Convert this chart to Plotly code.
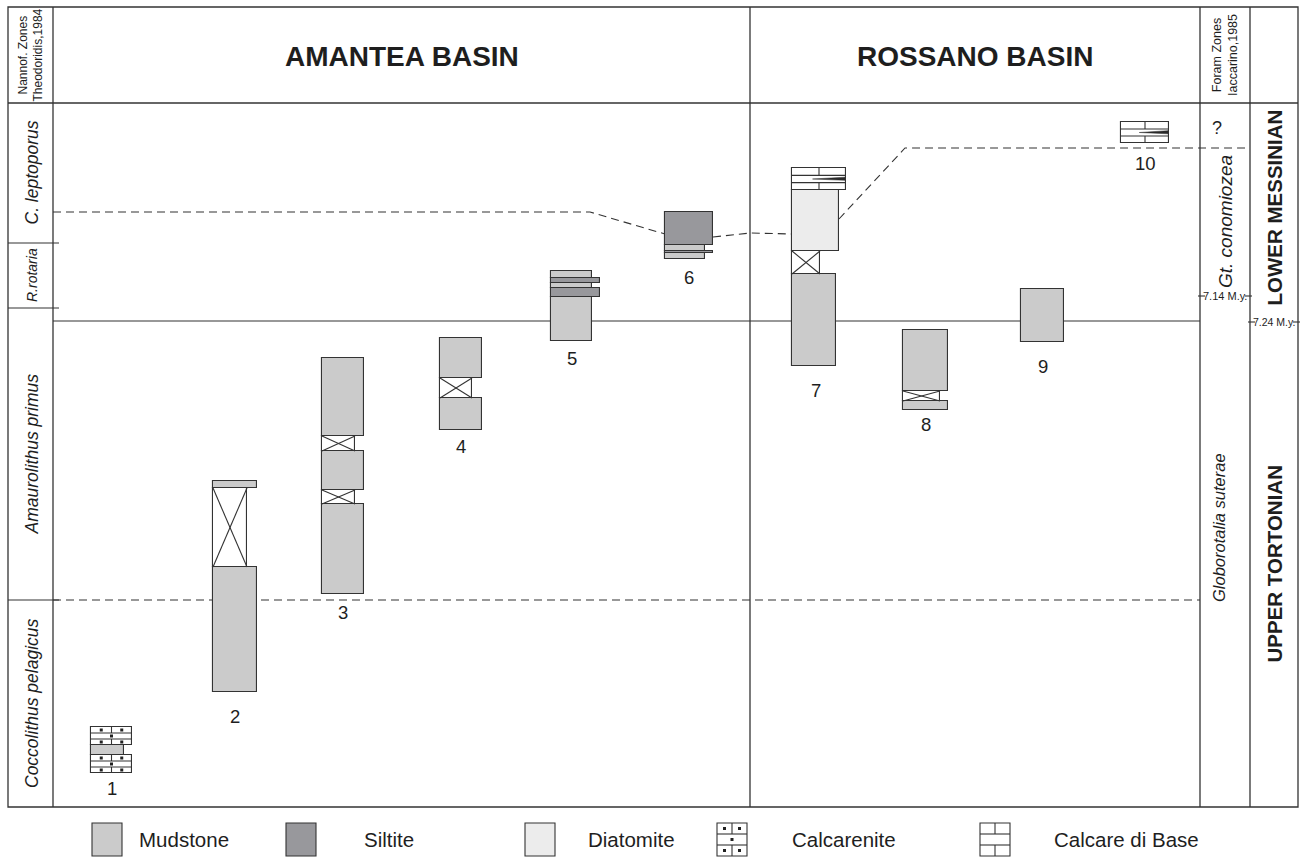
import plotly.graph_objects as go

# ---------------------------------------------------------------------------
# Section scale: vertical position runs downward (top of chart = youngest)
# ---------------------------------------------------------------------------

# Nannofossil zones (Theodoridis, 1984)
nanno_zone = ["C. leptoporus", "R.rotaria", "Amaurolithus primus", "Coccolithus pelagicus"]
nanno_top = [103, 243, 308, 600]
nanno_base = [243, 308, 600, 807]
nanno_size = [17.5, 14, 17.5, 17.5]

# Foram zones (Iaccarino, 1985)
foram_zone = ["?", "Gt. conomiozea", "Globorotalia suterae"]
foram_mid = [128, 222, 528]

# Stages
stage_name = ["LOWER MESSINIAN", "UPPER TORTONIAN"]
stage_top = [103, 322]
stage_base = [322, 807]

# Age ticks
age_label = ["7.14 M.y.", "7.24 M.y."]
age_level = [296, 322]

# Correlation levels
tortonian_messinian_level = 321
amaurolithus_base_level = 600
leptoporus_base_x = [53, 590, 665, None, 713, 750, 792, None, 839, 905, 1250]
leptoporus_base_y = [212, 212, 234, None, 237, 233, 234, None, 219, 148, 148]

# Sections (columns) and their lithological units, listed top to base
col_name = ["1", "2", "3", "4", "5", "6", "7", "8", "9", "10"]
col_left = [91, 213, 322, 440, 551, 665, 792, 903, 1021, 1121]

unit_col = [0, 0, 0,
            1, 1, 1,
            2, 2, 2, 2, 2,
            3, 3, 3,
            4, 4, 4, 4, 4,
            5, 5, 5, 5,
            6, 6, 6, 6,
            7, 7, 7,
            8,
            9]
unit_top = [727, 745, 755,
            481, 488, 567,
            358, 436, 451, 490, 504,
            338, 378, 398,
            271, 278, 283, 288, 297,
            212, 245, 251, 253,
            168, 190, 251, 274,
            330, 391, 401,
            289,
            122]
unit_base = [745, 755, 773,
             488, 567, 692,
             436, 451, 490, 504, 594,
             378, 398, 430,
             278, 283, 288, 297, 341,
             245, 251, 253, 259,
             190, 251, 274, 366,
             391, 401, 410,
             342,
             143]
unit_lith = ["calcarenite", "mudstone", "calcarenite",
             "mudstone", "covered", "mudstone",
             "mudstone", "covered", "mudstone", "covered", "mudstone",
             "mudstone", "covered", "mudstone",
             "mudstone", "siltite", "mudstone", "siltite", "mudstone",
             "siltite", "mudstone", "siltite", "mudstone",
             "calcare", "diatomite", "covered", "mudstone",
             "mudstone", "covered", "mudstone",
             "mudstone",
             "calcare"]
unit_width = [41, 33, 41,
              44, 34, 44,
              42, 33, 42, 33, 42,
              42, 32, 42,
              41, 49, 41, 49, 41,
              48, 40, 48, 40,
              54, 47, 28, 44,
              45, 37, 45,
              43,
              48]
unit_wedge = [False] * len(unit_col)
unit_wedge[23] = True
unit_wedge[31] = True

# Legend
legend_lith = ["mudstone", "siltite", "diatomite", "calcarenite", "calcare"]
legend_text = ["Mudstone", "Siltite", "Diatomite", "Calcarenite", "Calcare di Base"]

# ---------------------------------------------------------------------------
# Styling
# ---------------------------------------------------------------------------
INK = "#333333"
TXT = "#1e1e1e"
FONT = "Liberation Sans, Arial, sans-serif"
NARROW = "Liberation Sans Narrow, Liberation Sans, Arial, sans-serif"
FILL = {"mudstone": "#cbcbcb", "siltite": "#98989c", "diatomite": "#ececec",
        "calcarenite": "#ffffff", "calcare": "#ffffff", "covered": "#ffffff"}
DASH = "8px,5px"
label_gap = [15, 24, 18, 16, 17, 18, 24, 14, 24, 20]
legend_box_x = [92, 286, 525, 717, 980]
legend_text_x = [137, 362, 586, 790, 1052]
legend_box_w = 30
legend_y0, legend_y1 = 823, 856

fig = go.Figure()

seg_x, seg_y = [], []
dot_x, dot_y = [], []
wedge_x, wedge_y = [], []


def seg(xa, ya, xb, yb):
    seg_x.extend([xa, xb, None])
    seg_y.extend([ya, yb, None])


def pattern(x0, x1, y0, y1, lith, wedge=False):
    """Internal ornament of a lithological unit."""
    h = y1 - y0
    w = x1 - x0
    xc = (x0 + x1) / 2
    if lith == "covered":
        seg(x0, y0, x1, y1)
        seg(x0, y1, x1, y0)
    elif lith in ("calcarenite", "calcare"):
        r1 = y0 + h / 3
        r2 = y0 + 2 * h / 3
        seg(x0, r1, x1, r1)
        seg(x0, r2, x1, r2)
        seg(xc, y0, xc, r1)
        seg(xc, r2, xc, y1)
        if lith == "calcarenite":
            for yy in ((y0 + r1) / 2, (r2 + y1) / 2):
                dot_x.extend([x0 + w / 4, x0 + 3 * w / 4])
                dot_y.extend([yy, yy])
            dot_x.append(xc)
            dot_y.append((r1 + r2) / 2)
        if wedge:
            ym = (r1 + r2) / 2
            wedge_x.extend([x0 + 0.38 * w, x1 - 1, x1 - 1, x0 + 0.38 * w, None])
            wedge_y.extend([ym, ym - 1.8, ym + 1.3, ym, None])


# Correlation line (leptoporus base), kept beneath the sections
fig.add_trace(go.Scatter(x=leptoporus_base_x, y=leptoporus_base_y, mode="lines",
                         line=dict(color=INK, width=1.1, dash=DASH),
                         hoverinfo="skip", showlegend=False))

# Lithological units as bars (base = unit top, height = thickness)
for lith in ["mudstone", "siltite", "diatomite", "calcarenite", "calcare", "covered"]:
    idx = [i for i, l in enumerate(unit_lith) if l == lith]
    if not idx:
        continue
    fig.add_trace(go.Bar(
        x=[col_left[unit_col[i]] for i in idx],
        base=[unit_top[i] for i in idx],
        y=[unit_base[i] - unit_top[i] for i in idx],
        width=[unit_width[i] for i in idx],
        offset=0,
        marker=dict(color=FILL[lith], line=dict(color=INK, width=1.1)),
        hoverinfo="skip", showlegend=False,
    ))

for i in range(len(unit_col)):
    x0 = col_left[unit_col[i]]
    pattern(x0, x0 + unit_width[i], unit_top[i], unit_base[i], unit_lith[i], unit_wedge[i])

# Legend swatches
shapes = []
for k, lith in enumerate(legend_lith):
    x0 = legend_box_x[k]
    x1 = x0 + legend_box_w
    shapes.append(dict(type="rect", xref="x", yref="y", x0=x0, x1=x1,
                       y0=legend_y0, y1=legend_y1, fillcolor=FILL[lith],
                       line=dict(color=INK, width=1.1), layer="below"))
    pattern(x0, x1, legend_y0, legend_y1, lith)

fig.add_trace(go.Scatter(x=seg_x, y=seg_y, mode="lines",
                         line=dict(color=INK, width=1.1), hoverinfo="skip", showlegend=False))
fig.add_trace(go.Scatter(x=dot_x, y=dot_y, mode="markers",
                         marker=dict(symbol="square", size=3, color="#222222"),
                         hoverinfo="skip", showlegend=False))
fig.add_trace(go.Scatter(x=wedge_x, y=wedge_y, mode="lines", fill="toself",
                         fillcolor="#2a2a2a", line=dict(color="#2a2a2a", width=0.5),
                         hoverinfo="skip", showlegend=False))

# ---------------------------------------------------------------------------
# Frame and zone boundaries
# ---------------------------------------------------------------------------
LEFT, RIGHT, TOP, BOTTOM, HEAD = 8, 1298, 7, 807, 103
X_NANNO, X_MID, X_FORAM, X_STAGE = 53, 750, 1200, 1250


def hline(y, xa, xb, dash="solid", width=1.1):
    shapes.append(dict(type="line", xref="x", yref="y", x0=xa, x1=xb, y0=y, y1=y,
                       line=dict(color=INK, width=width, dash=dash), layer="below"))


def vline(x, ya, yb, width=1.2):
    shapes.append(dict(type="line", xref="x", yref="y", x0=x, x1=x, y0=ya, y1=yb,
                       line=dict(color=INK, width=width), layer="below"))


shapes.append(dict(type="rect", xref="x", yref="y", x0=LEFT, x1=RIGHT, y0=TOP, y1=BOTTOM,
                   line=dict(color=INK, width=1.3), layer="below"))
for xv in (X_NANNO, X_MID, X_FORAM, X_STAGE):
    vline(xv, TOP, BOTTOM, 1.3)
hline(HEAD, LEFT, RIGHT, width=1.3)

for yb in nanno_base[:-1]:
    hline(yb, LEFT, X_NANNO + 6)

hline(tortonian_messinian_level, X_NANNO, X_FORAM)
hline(amaurolithus_base_level, X_NANNO, X_FORAM, dash=DASH)

for k, lvl in enumerate(age_level):
    xa, xb = (X_FORAM, X_STAGE) if k == 0 else (X_STAGE, RIGHT)
    hline(lvl, xa - 2, xa + 5)
    hline(lvl, xb - 5, xb + 2)

# ---------------------------------------------------------------------------
# Text
# ---------------------------------------------------------------------------
ann = []


def text(x, y, s, size, family=FONT, angle=0, xanchor="center", yanchor="middle"):
    ann.append(dict(x=x, y=y, xref="x", yref="y", text=s, showarrow=False,
                    textangle=angle, xanchor=xanchor, yanchor=yanchor,
                    font=dict(family=family, size=size, color=TXT)))


text((X_NANNO + X_MID) / 2, 56, "<b>AMANTEA BASIN</b>", 28)
text((X_MID + X_FORAM) / 2, 56, "<b>ROSSANO BASIN</b>", 28)
text((LEFT + X_NANNO) / 2, 55, "Nannof. Zones<br>Theodoridis,1984", 12, NARROW, -90)
text((X_FORAM + X_STAGE) / 2, 55, "Foram Zones<br>Iaccarino,1985", 12.5, NARROW, -90)

for k, z in enumerate(nanno_zone):
    text((LEFT + X_NANNO) / 2 + 1, (nanno_top[k] + nanno_base[k]) / 2,
         "<i>%s</i>" % z, nanno_size[k], NARROW if k == 1 else FONT, -90)

text(1217, foram_mid[0], "?", 18)
text(1225, foram_mid[1], "<i>%s</i>" % foram_zone[1], 19, FONT, -90)
text(1219, foram_mid[2], "<i>%s</i>" % foram_zone[2], 16.5, FONT, -90)

for k, s in enumerate(stage_name):
    text((X_STAGE + RIGHT) / 2, (stage_top[k] + stage_base[k]) / 2 - (5 if k == 0 else 0),
         "<b>%s</b>" % s, 20.5, FONT, -90)

text((X_FORAM + X_STAGE) / 2, age_level[0], age_label[0], 11, NARROW)
text((X_STAGE + RIGHT) / 2, age_level[1], age_label[1], 10.5, NARROW)

for c, name in enumerate(col_name):
    ws = sorted(unit_width[i] for i in range(len(unit_col)) if unit_col[i] == c)
    base = max(unit_base[i] for i in range(len(unit_col)) if unit_col[i] == c)
    text(col_left[c] + ws[len(ws) // 2] / 2, base + label_gap[c], name, 18.5)

for k, s in enumerate(legend_text):
    text(legend_text_x[k], (legend_y0 + legend_y1) / 2, s, 20.5, FONT, 0, "left")

fig.update_layout(
    width=1300, height=857,
    margin=dict(l=0, r=0, t=0, b=0),
    paper_bgcolor="white", plot_bgcolor="white",
    barmode="overlay", bargap=0,
    xaxis=dict(range=[0, 1300], visible=False, fixedrange=True),
    yaxis=dict(range=[857, 0], visible=False, fixedrange=True),
    shapes=shapes, annotations=ann, showlegend=False,
)

fig.write_html("out.html")
